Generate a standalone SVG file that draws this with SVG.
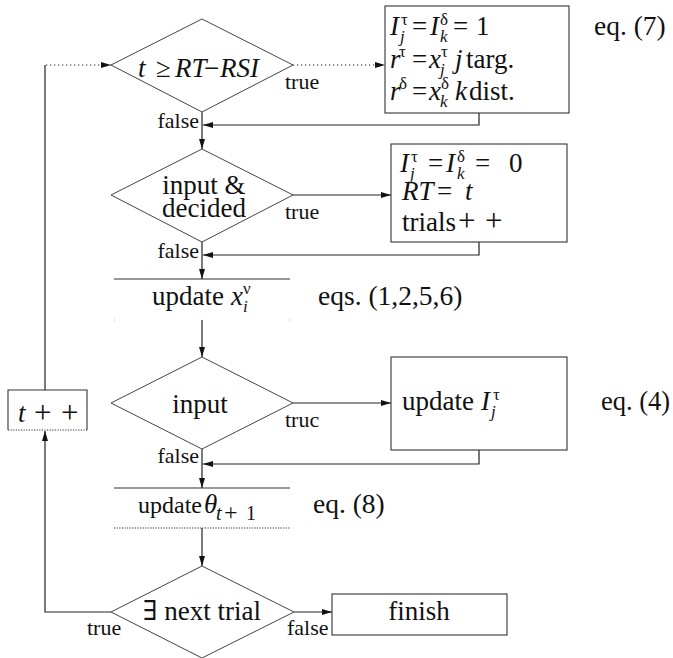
<svg xmlns="http://www.w3.org/2000/svg" width="673" height="658" viewBox="0 0 673 658">
  <defs>
    <marker id="ah" viewBox="0 0 10 6" refX="10" refY="3" markerWidth="11" markerHeight="6" markerUnits="userSpaceOnUse" orient="auto">
      <path d="M0,0 L10,3 L0,6 z" fill="#111"/>
    </marker>
    <style>
      .shape { fill: #fff; stroke: #333; stroke-width: 1.1; }
      .dia { fill: #fff; stroke: #444; stroke-width: 1; }
      .edge { fill: none; stroke: #222; stroke-width: 1.2; }
      .dot { fill: none; stroke: #222; stroke-width: 1.2; stroke-dasharray: 1.2 2.8; }
      .arr { marker-end: url(#ah); }
      text { font-family: 'Liberation Serif', 'Times New Roman', Times, 'DejaVu Serif', serif; font-size: 27px; fill: #111; }
      .it { font-style: italic; }
      .sm { font-size: 17px; }
      .sub { font-size: 20px; }
      .op { font-size: 31px; }
      .eq { font-size: 27.5px; }
      .lbl { font-size: 22px; }
      .mid { text-anchor: middle; }
      .end { text-anchor: end; }
    </style>
  </defs>

  <rect width="673" height="658" fill="#fff"/>

  <!-- connectors -->
  <g id="connectors">
    <!-- main downward flow -->
    <line class="edge arr" x1="202" y1="112" x2="202" y2="149"/>
    <line class="edge arr" x1="202" y1="242" x2="202" y2="279"/>
    <line class="edge arr" x1="202" y1="320" x2="202" y2="357"/>
    <line class="edge arr" x1="202" y1="449" x2="202" y2="488"/>
    <line class="edge arr" x1="202" y1="528" x2="202" y2="566"/>
    <!-- branches to the right -->
    <line class="dot arr" x1="293" y1="65" x2="385" y2="65"/>
    <line class="edge arr" x1="293" y1="195" x2="391" y2="195"/>
    <line class="edge arr" x1="293" y1="403" x2="391" y2="403"/>
    <line class="edge arr" x1="294" y1="612" x2="332" y2="612"/>
    <!-- returns from the boxes -->
    <polyline class="edge arr" points="479,113 479,125 203,125"/>
    <polyline class="edge arr" points="479,242 479,255 203,255"/>
    <polyline class="edge arr" points="479,450 479,464 203,464"/>
    <!-- loop back via t++ -->
    <polyline class="edge arr" points="111,612 45,612 45,431"/>
    <line class="edge" x1="45" y1="390" x2="45" y2="65"/>
    <line class="dot arr" x1="46" y1="65" x2="111" y2="65"/>
  </g>

  <!-- decision: t >= RT - RSI -->
  <g id="cond-time">
    <polygon class="dia" points="202,19 293,65 202,112 111,65"/>
    <text y="77"><tspan class="it" x="138">t</tspan><tspan x="156">≥</tspan><tspan class="it" x="175">RT</tspan><tspan x="204">−</tspan><tspan class="it" x="220">RSI</tspan></text>
    <text class="lbl" x="285" y="89">true</text>
    <text class="lbl end" x="199" y="128">false</text>
  </g>

  <!-- stimulus onset box -->
  <g id="box-onset">
    <rect class="shape" x="385" y="6" width="184" height="107"/>
    <text><tspan class="it" x="390" y="35">I</tspan><tspan class="sm" x="401" y="25">τ</tspan><tspan class="sm it" x="400" y="42">j</tspan><tspan x="412" y="35">=</tspan><tspan class="it" x="430" y="35">I</tspan><tspan class="sm" x="440" y="25">δ</tspan><tspan class="sm it" x="440" y="42">k</tspan><tspan x="453" y="35">=</tspan><tspan x="476" y="35">1</tspan></text>
    <text><tspan class="it" x="390" y="68">r</tspan><tspan class="sm" x="399" y="57">τ</tspan><tspan x="412" y="68">=</tspan><tspan class="it" x="429" y="68">x</tspan><tspan class="sm" x="441" y="57">τ</tspan><tspan class="sm it" x="440" y="75">j</tspan><tspan class="it" x="455" y="68">j</tspan><tspan x="466" y="68">targ.</tspan></text>
    <text><tspan class="it" x="390" y="100">r</tspan><tspan class="sm" x="399" y="89">δ</tspan><tspan x="412" y="100">=</tspan><tspan class="it" x="429" y="100">x</tspan><tspan class="sm" x="441" y="89">δ</tspan><tspan class="sm it" x="440" y="107">k</tspan><tspan class="it" x="455" y="100">k</tspan><tspan x="469" y="100">dist.</tspan></text>
  </g>
  <text class="eq" x="594" y="35">eq. (7)</text>

  <!-- decision: input & decided -->
  <g id="cond-decided">
    <polygon class="dia" points="202,149 293,195 202,242 111,195"/>
    <text class="mid" x="204" y="194">input &amp;</text>
    <text class="mid" x="204" y="217">decided</text>
    <text class="lbl" x="285" y="219">true</text>
    <text class="lbl end" x="199" y="258">false</text>
  </g>

  <!-- response box -->
  <g id="box-response">
    <rect class="shape" x="391" y="144" width="176" height="98"/>
    <text><tspan class="it" x="400" y="172">I</tspan><tspan class="sm" x="411" y="162">τ</tspan><tspan class="sm it" x="410" y="179">j</tspan><tspan x="428" y="172">=</tspan><tspan class="it" x="446" y="172">I</tspan><tspan class="sm" x="457" y="162">δ</tspan><tspan class="sm it" x="457" y="179">k</tspan><tspan x="475" y="172">=</tspan><tspan x="509" y="172">0</tspan></text>
    <text y="200"><tspan class="it" x="402">RT</tspan><tspan x="437">=</tspan><tspan class="it" x="465">t</tspan></text>
    <text y="231"><tspan x="402">trials</tspan><tspan class="op" x="458">+</tspan><tspan class="op" x="485">+</tspan></text>
  </g>

  <!-- update activations -->
  <g id="step-activations">
    <line x1="114" y1="279" x2="290" y2="279" stroke="#333" stroke-width="1.1"/>
    <line x1="114" y1="320" x2="290" y2="320" stroke="#999" stroke-width="0.8" stroke-dasharray="1 174"/>
    <text><tspan x="152" y="305">update</tspan><tspan class="it" x="231" y="305">x</tspan><tspan class="sm" x="243" y="294">ν</tspan><tspan class="sm it" x="243" y="312">i</tspan></text>
  </g>
  <text class="eq" x="318" y="305">eqs. (1,2,5,6)</text>

  <!-- decision: input -->
  <g id="cond-input">
    <polygon class="dia" points="202,357 293,403 202,449 111,403"/>
    <text class="mid" x="200" y="413">input</text>
    <text class="lbl" x="285" y="427">truc</text>
    <text class="lbl end" x="199" y="463">false</text>
  </g>

  <!-- update input box -->
  <g id="box-input">
    <rect class="shape" x="391" y="357" width="176" height="93"/>
    <text><tspan x="402" y="410">update</tspan><tspan class="it" x="481" y="410">I</tspan><tspan class="sm" x="493" y="400">τ</tspan><tspan class="sm it" x="491" y="417">j</tspan></text>
  </g>
  <text x="601" y="410" style="font-size:26.5px">eq. (4)</text>

  <!-- update threshold -->
  <g id="step-threshold">
    <line x1="114" y1="488" x2="290" y2="488" stroke="#333" stroke-width="1.1"/>
    <line x1="114" y1="528" x2="290" y2="528" stroke="#333" stroke-width="1.1" stroke-dasharray="1.2 1.4"/>
    <text><tspan x="138" y="513" style="font-size:24px">update</tspan><tspan class="it" x="204" y="513">θ</tspan><tspan class="sub it" x="216" y="520">t</tspan><tspan x="224" y="520" style="font-size:24px">+</tspan><tspan class="sub" x="246" y="520">1</tspan></text>
  </g>
  <text class="eq" x="313" y="513">eq. (8)</text>

  <!-- decision: next trial -->
  <g id="cond-next">
    <polygon class="dia" points="202,566 294,612 202,658 111,612"/>
    <text class="mid" x="202" y="620">∃ next trial</text>
    <text class="lbl" x="87" y="635">true</text>
    <text class="lbl" x="287" y="635">false</text>
  </g>

  <!-- finish -->
  <g id="box-finish">
    <rect class="shape" x="332" y="594" width="175" height="41"/>
    <text class="mid" x="419" y="620">finish</text>
  </g>

  <!-- time step -->
  <g id="box-tick">
    <path d="M8,430 L8,390 L87,390 L87,430" fill="#fff" stroke="#333" stroke-width="1.1"/>
    <line x1="8" y1="430" x2="87" y2="430" stroke="#333" stroke-width="1.1" stroke-dasharray="1.2 1.4"/>
    <text y="422"><tspan class="it" x="18">t</tspan><tspan class="op" x="34" y="423">+</tspan><tspan class="op" x="61" y="423">+</tspan></text>
  </g>
</svg>
